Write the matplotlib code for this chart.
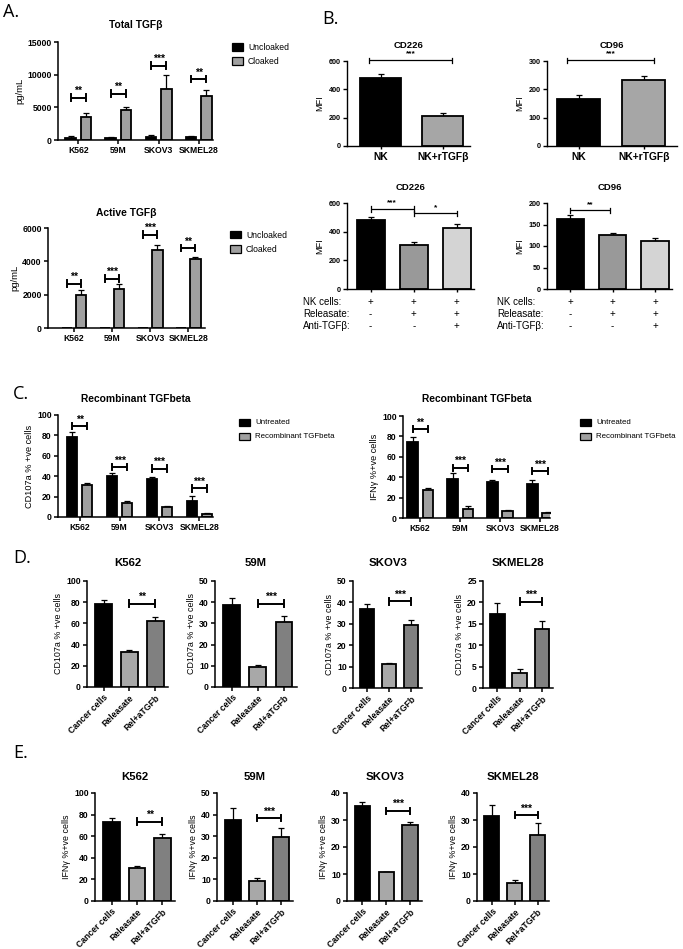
import numpy as np
import matplotlib
matplotlib.use('Agg')
import matplotlib.pyplot as plt
from matplotlib.patches import Rectangle
from matplotlib.transforms import blended_transform_factory

plt.rcParams['font.family'] = ['Liberation Sans', 'DejaVu Sans']
plt.rcParams['font.weight'] = 'bold'

# ---------------- data ----------------
cell_lines = ['K562', '59M', 'SKOV3', 'SKMEL28']

total_uncloaked = [350, 380, 420, 400]
total_uncloaked_err = [200, 150, 300, 150]
total_cloaked = [3550, 4550, 7850, 6700]
total_cloaked_err = [600, 520, 2100, 900]
total_sig = ['**', '**', '***', '**']
total_sig_y = [6500, 7100, 11400, 9350]

active_uncloaked = [0, 0, 0, 0]
active_uncloaked_err = [0, 0, 0, 0]
active_cloaked = [1970, 2320, 4690, 4130]
active_cloaked_err = [300, 300, 280, 160]
active_sig = ['**', '***', '***', '**']
active_sig_y = [2660, 2960, 5600, 4790]

b_top_groups = ['NK', 'NK+rTGFβ']
cd226_top = [480, 214]
cd226_top_err = [26, 21]
cd96_top = [166, 234]
cd96_top_err = [15, 13]

cond_rows = ['NK cells:', 'Releasate:', 'Anti-TGFβ:']
cond_nk = ['+', '+', '+']
cond_rel = ['-', '+', '+']
cond_anti = ['-', '-', '+']
cd226_bot = [479, 310, 427]
cd226_bot_err = [23, 21, 26]
cd96_bot = [163, 125, 112]
cd96_bot_err = [9, 6, 6]

c_labels = ['Untreated', 'Recombinant TGFbeta']
cd107a_untreated = [78.7, 40.0, 37.7, 15.7]
cd107a_untreated_err = [4.6, 3.3, 1.6, 4.6]
cd107a_rtgfb = [31.1, 14.1, 9.8, 3.0]
cd107a_rtgfb_err = [2.3, 1.3, 1.0, 1.3]
cd107a_sig = ['**', '***', '***', '***']
cd107a_sig_y = [89, 49, 47.5, 28]

ifng_untreated = [75.0, 37.9, 35.6, 33.0]
ifng_untreated_err = [4.0, 6.0, 1.3, 3.9]
ifng_rtgfb = [27.8, 9.2, 6.9, 4.9]
ifng_rtgfb_err = [1.9, 2.2, 0.9, 1.0]
ifng_sig = ['**', '***', '***', '***']
ifng_sig_y = [87, 49.3, 48, 46]

de_groups = ['Cancer cells', 'Releasate', 'Rel+aTGFb']
d_vals = {'K562': [78.0, 32.7, 62.6], '59M': [38.5, 9.3, 30.8],
          'SKOV3': [37.1, 11.1, 29.6], 'SKMEL28': [17.2, 3.6, 13.9]}
d_errs = {'K562': [4.4, 1.9, 3.4], '59M': [3.6, 0.9, 2.8],
          'SKOV3': [2.3, 0.7, 2.0], 'SKMEL28': [2.7, 0.9, 1.8]}
d_sig = {'K562': '**', '59M': '***', 'SKOV3': '***', 'SKMEL28': '***'}
d_sig_y = {'K562': 78.6, '59M': 39.3, 'SKOV3': 40.5, 'SKMEL28': 20.2}
d_ymax = {'K562': 100, '59M': 50, 'SKOV3': 50, 'SKMEL28': 25}
d_ystep = {'K562': 20, '59M': 10, 'SKOV3': 10, 'SKMEL28': 5}

e_vals = {'K562': [73.0, 30.4, 58.1], '59M': [37.6, 9.2, 29.8],
          'SKOV3': [35.3, 10.6, 28.2], 'SKMEL28': [31.6, 6.8, 24.5]}
e_errs = {'K562': [4.3, 2.2, 3.7], '59M': [5.4, 1.5, 4.2],
          'SKOV3': [1.2, 0.3, 1.0], 'SKMEL28': [3.9, 1.15, 4.4]}
e_sig = {'K562': '**', '59M': '***', 'SKOV3': '***', 'SKMEL28': '***'}
e_sig_y = {'K562': 73.6, '59M': 38.4, 'SKOV3': 33.4, 'SKMEL28': 31.9}
e_ymax = {'K562': 100, '59M': 50, 'SKOV3': 40, 'SKMEL28': 40}
e_ystep = {'K562': 20, '59M': 10, 'SKOV3': 10, 'SKMEL28': 10}

# ---------------- helpers ----------------
W, H = 683, 949
fig = plt.figure(figsize=(W / 100, H / 100), dpi=100)
fig.patch.set_facecolor('white')


def px_ax(l, t, r, b):
    return fig.add_axes([l / W, 1 - b / H, (r - l) / W, (b - t) / H])


def ftext(x, y, s, **kw):
    fig.text(x / W, 1 - y / H, s, **kw)


def style(ax, lw=1.1, fs=6.2):
    for s in ['top', 'right']:
        ax.spines[s].set_visible(False)
    for s in ['left', 'bottom']:
        ax.spines[s].set_linewidth(lw)
    ax.tick_params(direction='out', length=3, width=lw, labelsize=fs, pad=1.5)


def bars(ax, x, vals, errs, color, width, lw=1.3):
    x = np.asarray(x, float)
    vals = np.asarray(vals, float)
    errs = np.asarray(errs, float)
    ax.bar(x, vals, width, color=color, edgecolor='black', linewidth=lw, zorder=2)
    m = errs > 0
    if m.any():
        ax.errorbar(x[m], vals[m], yerr=[np.zeros(m.sum()), errs[m]], fmt='none',
                    ecolor='black', elinewidth=0.9, capsize=2.4, capthick=0.9, zorder=1)


def bracket(ax, x0, x1, y, s, lw=1.4, cap_px=3.2, fs=7.5, gap_px=1.5):
    y0, y1 = ax.get_ylim()
    hpx = ax.get_position().height * H
    c = cap_px * (y1 - y0) / hpx
    g = gap_px * (y1 - y0) / hpx
    ax.plot([x0, x1], [y, y], color='black', lw=lw, clip_on=False, zorder=3,
            solid_capstyle='butt')
    for xx in (x0, x1):
        ax.plot([xx, xx], [y - c, y + c], color='black', lw=lw, clip_on=False, zorder=3)
    ax.text((x0 + x1) / 2, y + g, s, ha='center', va='bottom', fontsize=fs,
            fontweight='bold', clip_on=False)


def title(ax, y, s, fs=7.4):
    p = ax.get_position()
    fig.text(p.x0 + p.width / 2, 1 - y / H, s, ha='center', va='center',
             fontsize=fs, fontweight='bold')


def legend_px(x, ys, labels, colors, fs=6.2):
    for y, lab, c in zip(ys, labels, colors):
        fig.add_artist(Rectangle((x / W, 1 - (y + 3.5) / H), 11 / W, 7 / H,
                                 transform=fig.transFigure, facecolor=c,
                                 edgecolor='black', lw=0.9))
        ftext(x + 16, y, lab, va='center', ha='left', fontsize=fs,
              fontweight='normal')


BLACK = '#000000'
GREY = '#a0a0a0'

# ---------------- Panel A ----------------
ftext(3, 12, 'A.', fontsize=13, fontweight='normal', va='center',
      family='Open Sans')

x4 = np.arange(len(cell_lines))
off, w = 0.19, 0.27

ax = px_ax(58, 42, 213, 140)
style(ax)
ax.set_xlim(-0.51, 3.36)
ax.set_ylim(0, 15000)
ax.set_yticks([0, 5000, 10000, 15000])
bars(ax, x4 - off, total_uncloaked, total_uncloaked_err, BLACK, w)
bars(ax, x4 + off, total_cloaked, total_cloaked_err, GREY, w)
ax.set_xticks(x4)
ax.set_xticklabels(cell_lines)
ax.set_ylabel('pg/mL', fontsize=6.8, labelpad=2)
for i in range(4):
    bracket(ax, x4[i] - off, x4[i] + off, total_sig_y[i], total_sig[i])
title(ax, 25, 'Total TGFβ')
legend_px(232, [47, 61], ['Uncloaked', 'Cloaked'], [BLACK, GREY])

ax = px_ax(48, 228, 205, 328)
style(ax)
ax.set_xlim(-0.68, 3.44)
ax.set_ylim(0, 6000)
ax.set_yticks([0, 2000, 4000, 6000])
bars(ax, x4 - off, active_uncloaked, active_uncloaked_err, BLACK, w)
bars(ax, x4 + off, active_cloaked, active_cloaked_err, GREY, w)
ax.set_xticks(x4)
ax.set_xticklabels(cell_lines)
ax.set_ylabel('pg/mL', fontsize=6.8, labelpad=2)
for i in range(4):
    bracket(ax, x4[i] - off, x4[i] + off, active_sig_y[i], active_sig[i])
title(ax, 213, 'Active TGFβ')
legend_px(230, [235, 249], ['Uncloaked', 'Cloaked'], [BLACK, GREY])

# ---------------- Panel B ----------------
ftext(322, 19, 'B.', fontsize=13, fontweight='normal', va='center',
      family='Open Sans')
x2 = np.arange(2)
for (l, r, vals, errs, ymax, step, ttl) in [
        (347, 470, cd226_top, cd226_top_err, 600, 200, 'CD226'),
        (547, 677, cd96_top, cd96_top_err, 300, 100, 'CD96')]:
    ax = px_ax(l, 61, r, 146)
    style(ax, lw=1.0, fs=5.2)
    if ttl == 'CD226':
        ax.set_xlim(-0.54, 1.44)
    else:
        ax.set_xlim(-0.49, 1.51)
    ax.set_ylim(0, ymax)
    ax.set_yticks(np.arange(0, ymax + 1, step))
    bars(ax, x2, vals, errs, [BLACK, '#a6a6a6'], 0.66, lw=1.3)
    ax.set_xticks(x2)
    ax.set_xticklabels(b_top_groups, fontsize=7.4)
    ax.tick_params(axis='x', length=2.5)
    ax.set_ylabel('MFI', fontsize=6.6, labelpad=3)
    bracket(ax, x2[0] - 0.18, x2[1] + 0.15, ymax * 1.008, '***', lw=0.9,
            cap_px=2.8, fs=6.0, gap_px=3)
    title(ax, 45, ttl, fs=6.8)

x3 = np.arange(3)
bot_colors = [BLACK, '#999999', '#d4d4d4']
for (l, r, vals, errs, ymax, step, ttl, lab_x) in [
        (347, 474, cd226_bot, cd226_bot_err, 600, 200, 'CD226', 303),
        (547, 672, cd96_bot, cd96_bot_err, 200, 50, 'CD96', 497)]:
    ax = px_ax(l, 203, r, 289)
    style(ax, lw=1.0, fs=5.2)
    ax.set_xlim(-0.55, 2.4)
    ax.set_ylim(0, ymax)
    ax.set_yticks(np.arange(0, ymax + 1, step))
    bars(ax, x3, vals, errs, bot_colors, 0.65, lw=1.3)
    ax.set_xticks(x3)
    ax.set_xticklabels([])
    ax.tick_params(axis='x', length=2)
    ax.set_ylabel('MFI', fontsize=6.6, labelpad=3)
    title(ax, 187, ttl, fs=6.8)
    if ttl == 'CD226':
        bracket(ax, x3[0], x3[1], 560, '***', lw=0.9, cap_px=2.8, fs=6.0, gap_px=2)
        bracket(ax, x3[1], x3[2], 528, '*', lw=0.9, cap_px=2.8, fs=6.0, gap_px=2)
    else:
        bracket(ax, x3[0], x3[1] - 0.07, 183, '**', lw=0.9, cap_px=2.8, fs=6.0, gap_px=2)
    trans = blended_transform_factory(ax.transData, ax.transAxes)
    for row, (lab, marks) in enumerate(zip(cond_rows, [cond_nk, cond_rel, cond_anti])):
        yfrac = -(302 + 12 * row - 289) / 86
        ftext(lab_x, 302 + 12 * row, lab, fontsize=7.0, fontweight='normal',
              va='center', ha='left')
        for i, mk in enumerate(marks):
            ax.text(x3[i], yfrac, mk, transform=trans, ha='center', va='center',
                    fontsize=7.0, fontweight='normal')

# ---------------- Panel C ----------------
ftext(13, 394, 'C.', fontsize=13, fontweight='normal', va='center',
      family='Open Sans')
off_c, w_c = 0.19, 0.26
for (l, t, r, b, u, ue, rt, rte, sig, sigy, ylab, xl, legx) in [
        (58, 415, 213, 517, cd107a_untreated, cd107a_untreated_err, cd107a_rtgfb,
         cd107a_rtgfb_err, cd107a_sig, cd107a_sig_y, 'CD107a % +ve cells',
         (-0.54, 3.34), 239),
        (403, 416, 550, 518, ifng_untreated, ifng_untreated_err, ifng_rtgfb,
         ifng_rtgfb_err, ifng_sig, ifng_sig_y, 'IFNγ %+ve cells',
         (-0.43, 3.25), 580)]:
    ax = px_ax(l, t, r, b)
    style(ax)
    ax.set_xlim(*xl)
    ax.set_ylim(0, 100)
    ax.set_yticks(np.arange(0, 101, 20))
    bars(ax, x4 - off_c, u, ue, BLACK, w_c)
    bars(ax, x4 + off_c, rt, rte, GREY, w_c)
    ax.set_xticks(x4)
    ax.set_xticklabels(cell_lines)
    ax.set_ylabel(ylab, fontsize=6.6, labelpad=2)
    for i in range(4):
        bracket(ax, x4[i] - off_c, x4[i] + off_c, sigy[i], sig[i])
    title(ax, 399, 'Recombinant TGFbeta')
    legend_px(legx, [422, 436], c_labels, [BLACK, GREY], fs=5.7)

# ---------------- Panels D & E ----------------
de_colors = [BLACK, '#a8a8a8', '#808080']


def de_panel(box, name, vals, errs, sig, sigy, ymax, ystep, ylab, ty):
    ax = px_ax(*box)
    style(ax)
    ax.set_xlim(-0.65, 2.5)
    ax.set_ylim(0, ymax)
    ax.set_yticks(np.arange(0, ymax + 0.01, ystep))
    bars(ax, x3, vals, errs, de_colors, 0.65)
    ax.set_xticks(x3)
    ax.set_xticklabels(de_groups, rotation=45, ha='right', rotation_mode='anchor',
                       fontsize=6.2)
    ax.set_ylabel(ylab, fontsize=6.4, labelpad=2)
    bracket(ax, x3[1], x3[2], sigy, sig)
    title(ax, ty, name, fs=8.2)


ftext(13, 558, 'D.', fontsize=13, fontweight='normal', va='center',
      family='Open Sans')
d_boxes = {'K562': (87, 581, 168, 687), '59M': (215, 581, 297, 687),
           'SKOV3': (353, 581, 422, 688), 'SKMEL28': (483, 581, 553, 688)}
for name in cell_lines:
    de_panel(d_boxes[name], name, d_vals[name], d_errs[name], d_sig[name],
             d_sig_y[name], d_ymax[name], d_ystep[name], 'CD107a % +ve cells', 563)

ftext(13, 753, 'E.', fontsize=13, fontweight='normal', va='center',
      family='Open Sans')
e_boxes = {'K562': (95, 793, 175, 901), '59M': (217, 793, 293, 901),
           'SKOV3': (347, 793, 422, 901), 'SKMEL28': (477, 793, 549, 901)}
for name in cell_lines:
    de_panel(e_boxes[name], name, e_vals[name], e_errs[name], e_sig[name],
             e_sig_y[name], e_ymax[name], e_ystep[name], 'IFNγ %+ve cells', 777)

fig.savefig('out.png', dpi=100, facecolor='white')
